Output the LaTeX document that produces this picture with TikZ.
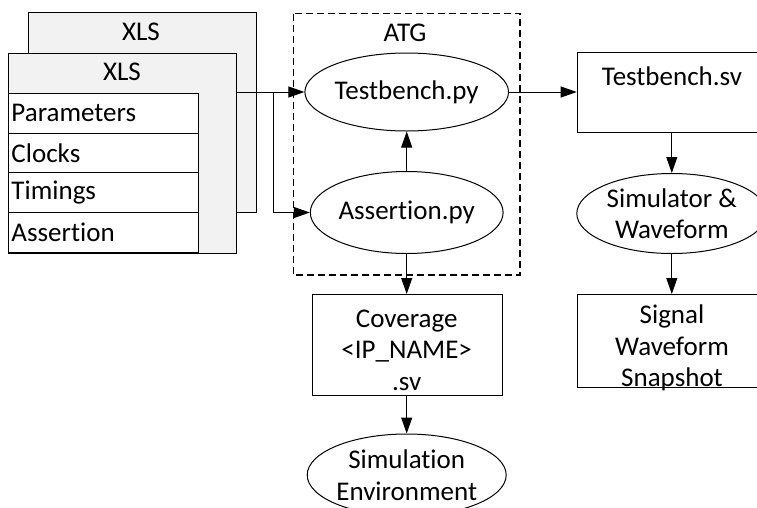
\documentclass[tikz,border=0pt]{standalone}
\usepackage{fontspec}
\setmainfont{Carlito}[Ligatures={NoCommon,NoRare}]
\usetikzlibrary{shapes.geometric,arrows.meta}
\definecolor{boxgray}{HTML}{F2F2F2}
\begin{document}
\begin{tikzpicture}[x=1pt,y=-1pt,
  every node/.style={font=\fontsize{27}{31.5}\selectfont},
  line/.style={draw=black,line width=1pt},
  arr/.style={line,-{Triangle[length=16pt,width=11pt]}},
  xlsbox/.style={line,fill=boxgray,rectangle,inner sep=0pt,anchor=north west,minimum width=228pt,minimum height=200pt},
  rowbox/.style={line,fill=white,rectangle,anchor=north west,inner xsep=3pt,inner ysep=0pt,text width=184pt,align=left,minimum height=39.8pt},
  ellbox/.style={line,ellipse,inner sep=0pt,minimum width=190pt,align=center},
  plainbox/.style={line,rectangle,inner sep=0pt,minimum width=190pt},
  txt/.style={inner sep=0pt,align=center}]
\clip (0,0) rectangle (757,507);
\fill[white] (0,0) rectangle (757,507);
% XLS stacks
\node[xlsbox] (xlsb) at (27.5,12) {};
\node[txt] (xlsbt) at (141,32) {XLS};
\node[xlsbox] (xlsf) at (8,52.5) {};
\node[txt] (xlsft) at (122,72) {XLS};
\node[rowbox] (r1) at (8,92.7) {Parameters};
\node[rowbox] (r2) at (8,132.5) {Clocks};
\node[rowbox] (r3) at (8,172.3) {Timings};
\node[rowbox] (r4) at (8,212.1) {Assertion};
% ATG group
\draw[line,line width=1.3pt,dash pattern=on 7pt off 4pt] (293.5,13.5) rectangle (520,275);
\node[txt] (atg) at (405,33) {ATG};
\node[ellbox,minimum height=78pt] (tbpy) at (406.7,92) {Testbench.py};
\node[ellbox,minimum height=82pt] (aspy) at (406.7,212.5) {Assertion.py};
% right column
\node[plainbox,anchor=north west,minimum height=80pt] (tbsv) at (576.7,51.7) {};
\node[txt] (tbsvt) at (672,76) {Testbench.sv};
\node[ellbox,minimum height=80pt] (sim) at (671.8,213.5) {Simulator \&\\Waveform};
\node[plainbox,anchor=north west,minimum height=93pt] (sig) at (576.7,294) {};
\node[txt] (sigt) at (672,348) {Signal\\Waveform\\Snapshot};
% middle column
\node[plainbox,anchor=north west,minimum height=100.5pt] (cov) at (311.7,294) {};
\node[txt] (covt) at (406.7,350) {Coverage\\<IP\_NAME>\\.sv};
\node[ellbox,minimum height=82pt] (env) at (406.7,475) {Simulation\\Environment};
% connectors
\coordinate (br) at (273,92);
\draw[arr] (tbpy.west -| xlsf.east) -- (tbpy.west);
\draw[arr] (br) |- (aspy.west);
\draw[arr] (aspy.north) -- (tbpy.south);
\draw[arr] (aspy.south) -- (cov.north -| aspy.south);
\draw[arr] (tbpy.east) -- (tbpy.east -| tbsv.west);
\draw[arr] (tbsv.south -| sim.north) -- (sim.north);
\draw[arr] (sim.south) -- (sig.north -| sim.south);
\draw[arr] (cov.south -| env.north) -- (env.north);
\end{tikzpicture}
\end{document}
